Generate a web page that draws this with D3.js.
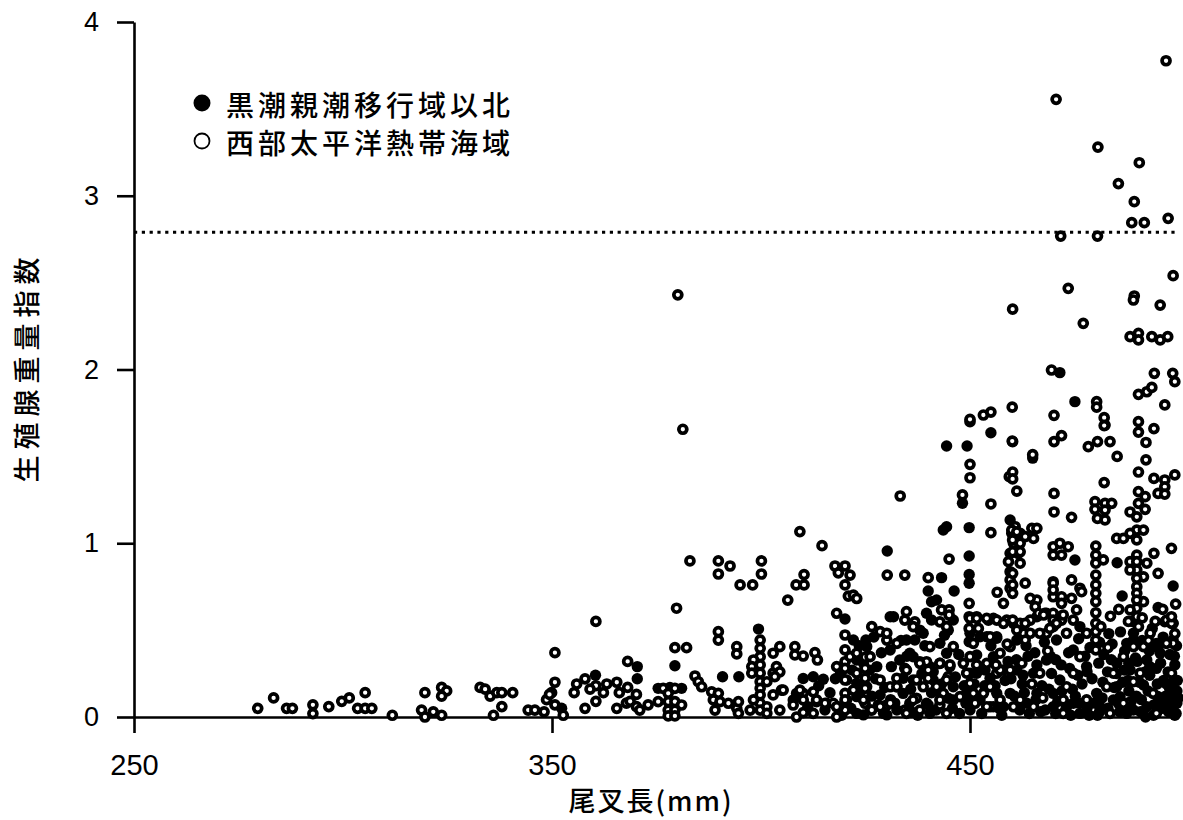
<!DOCTYPE html>
<html lang="ja">
<head>
<meta charset="UTF-8">
<script src="https://d3js.org/d3.v7.min.js"></script>
<style>
  body { margin: 0; background: #fff; }
  svg { display: block; }
  .tick text { font-family: 'Liberation Sans', Arial, sans-serif; fill: #000; }
  .jp { font-family: 'Noto Sans CJK JP', sans-serif; fill: #000; font-weight: 500; }
</style>
</head>
<body>
<svg id="chart" width="1183" height="820"></svg>
<script>
// legend / axis labels
const seriesNames = ["黒潮親潮移行域以北", "西部太平洋熱帯海域"];
const xTicks = [250, 350, 450];
const yTicks = [0, 1, 2, 3, 4];
const xTitle = "尾叉長(mm)";
const yTitle = "生殖腺重量指数";
const threshold = 2.79;

// 黒潮親潮移行域以北 (filled) : [尾叉長, 指数]
const northPts = [
  [352.3,0.05],[360.4,0.24],[370.4,0.29],[370.4,0.22],[375.4,0.165],[378.2,0.17],[381.0,0.165],[379.4,0.295],
  [399.4,0.506],[394.7,0.232],[390.8,0.232],[408.5,0.136],[420.1,0.564],[419.0,0.25],
  [410.1,0.222],[412.5,0.232],[414.9,0.217],[415.3,0.04],
  [444.4,1.56],[449.3,1.56],[455.0,1.636],[448.2,1.23],[443.6,1.076],[444.4,1.095],[449.8,1.09],[430.2,0.955],
  [449.8,0.927],[443.2,0.802],[449.8,0.82],[449.8,0.77],[440.0,0.725],[446.2,0.725],
  [454.0,0.462],[456.4,0.453],[449.8,0.433],[430.9,0.577],[431.7,0.577],[438.0,0.5],[436.8,0.443],
  [440.8,0.663],[442.0,0.673],[444.8,0.5],[440.8,0.558],[439.6,0.597],[425.1,0.443],[422.1,0.443],
  [422.9,0.328],[422.9,0.194],[422.9,0.117],[424.5,0.012],[430.1,0.012],[428.5,0.127],[433.2,0.328],
  [435.6,0.367],[441.2,0.261],[442.8,0.309],[444.4,0.367],[444.8,0.108],[440.0,0.069],[435.6,0.079],
  [432.5,0.174],[434.0,0.223],
  [451.6,0.357],[450.0,0.252],[449.2,0.136],[450.0,0.04],[454.8,0.223],[456.4,0.136],[458.0,0.059],
  [455.6,0.568],[460.4,0.539],[450.0,0.482],[452.4,0.462],[456.4,0.462],[461.2,0.443],[451.6,0.252],
  [455.6,0.347],[461.2,0.27],[452.4,0.098],[455.6,0.059],[459.6,0.136],[463.6,0.079],[466.0,0.136],
  [468.3,0.328],[465.2,0.252],[471.5,0.577],[466.0,0.577],[459.6,1.134],
  [465.0,1.49],[498.6,0.754],[485.2,0.888],[475.1,0.904],[486.4,0.696],[495.0,0.63],[469.9,0.779],
  [471.5,1.982],[475.1,1.815],
  [493.8,0.405],[495.5,0.367],[498.6,0.443],[496.6,0.548],[498.6,0.203],[498.6,0.117],[494.6,0.424],
  [489.1,0.443],[492.3,0.328],[494.6,0.28],[488.3,0.27],[491.5,0.184],[495.5,0.098],[497.0,0.079],
  [498.6,0.059],[492.3,0.059],[489.1,0.04],[485.9,0.117],[485.1,0.174],[485.1,0.309],[487.5,0.424],
  [489.1,0.482],[499.3,0.02],[499.5,0.08],[497.5,0.03],[496.0,0.05],[494.0,0.07],[491.0,0.1],
  [488.0,0.15],[486.5,0.2],[483.0,0.05],[481.0,0.03],[478.0,0.05],[476.0,0.08],[473.0,0.05],
  [471.0,0.09],[468.0,0.04],[499.0,0.3],[499.5,0.15],[497.8,0.16],[496.3,0.21],[493.0,0.24],
  [490.0,0.32],[487.0,0.38],[484.0,0.42],[482.0,0.36],
  [470.7,0.443],[476.3,0.52],[474.7,0.386],[477.9,0.29],[471.5,0.213],[469.9,0.136],[474.7,0.079],
  [480.3,0.136],[484.3,0.098],[481.1,0.059],[487.5,0.021],[469.9,0.059],[476.3,0.021],
  [430.9,0.386],[434.8,0.443],[438.8,0.482],[446.0,0.558],[442.8,0.424],[436.4,0.347],[440.4,0.29],
  [445.2,0.29],[436.4,0.213],[441.2,0.213],[446.0,0.174],[434.0,0.136],[439.6,0.079],[446.0,0.098],
  [432.5,0.04],[440.4,0.021],
  [407.7,0.098],[415.7,0.079],[420.5,0.098],[420.5,0.213],[424.5,0.309],[427.7,0.29],[425.3,0.174],
  [426.1,0.04],[429.3,0.021],[422.9,0.021],[425.3,0.405],
  [470.5,0.02],[472.0,0.15],[473.8,0.28],[475.2,0.12],[476.8,0.19],[478.5,0.01],[479.2,0.22],[480.8,0.31],
  [481.6,0.11],[482.9,0.26],[484.5,0.17],[485.8,0.03],[486.9,0.27],[488.6,0.09],[489.6,0.34],[490.8,0.03],
  [491.9,0.26],[492.6,0.15],[493.9,0.01],[494.8,0.19],[495.6,0.31],[496.8,0.12],[497.4,0.26],[498.9,0.35],
  [499.6,0.21],[499.0,0.01],[477.5,0.35],[475.8,0.24],[474.1,0.01],[479.8,0.08],[483.8,0.33],[487.8,0.21],
  [491.2,0.44],[493.6,0.51],[496.2,0.46],[492.9,0.38],[488.9,0.55],[486.0,0.49],[483.2,0.48],[481.0,0.43],
  [478.7,0.40],[476.0,0.45],[473.6,0.37],[471.8,0.30],[469.5,0.25],[467.2,0.18],[465.8,0.10],[464.2,0.02],
  [462.5,0.19],[461.1,0.33],[463.4,0.41],[465.5,0.37],[467.8,0.43],[469.2,0.35],
  [426.5,0.12],[427.4,0.22],[428.8,0.37],[429.6,0.17],[431.2,0.29],[432.0,0.08],[433.5,0.44],[434.9,0.35],
  [435.8,0.16],[437.5,0.01],[438.5,0.25],[439.2,0.41],[440.8,0.14],[441.9,0.04],[443.2,0.19],[443.9,0.47],
  [445.8,0.05],[446.5,0.23],[447.3,0.36],[448.6,0.18],[449.0,0.08],[451.0,0.19],[452.8,0.02],[453.6,0.27],
  [455.0,0.41],[456.0,0.18],[457.6,0.01],[458.4,0.21],[459.1,0.32],[460.6,0.12],[461.9,0.04],[462.7,0.24],
  [463.9,0.35],[466.9,0.03],[468.9,0.16],
  [411.2,0.06],[413.8,0.18],[416.5,0.14],[417.8,0.22],[419.3,0.01],[421.5,0.05],[423.6,0.14],[421.8,0.27],
  [426.0,0.27],[427.0,0.46],[423.5,0.41],
  [431.0,0.10],[436.0,0.03],[442.5,0.15],[447.5,0.02],[450.5,0.12],[453.5,0.18],[457.0,0.05],[459.8,0.22],
  [463.0,0.14],[466.0,0.30],[470.5,0.33],[474.5,0.16],[478.0,0.26],[481.8,0.20],[485.0,0.25],[488.0,0.31],
  [490.5,0.20],[493.0,0.29],[495.0,0.40],[497.8,0.36],[499.4,0.41],[480.5,0.01],[485.5,0.08],[489.8,0.12],
  [492.0,0.00],[494.8,0.12],[497.0,0.19],[499.8,0.11]
];

// 西部太平洋熱帯海域 (open) : [尾叉長, 指数]
const tropicPts = [
  [279.6,0.05],[283.4,0.11],[286.5,0.05],[287.9,0.05],[292.8,0.07],[292.8,0.02],[296.6,0.06],[299.7,0.09],
  [301.5,0.11],[305.3,0.14],[303.5,0.05],[305.3,0.05],[306.9,0.05],[311.8,0.01],[319.6,0.14],[318.8,0.04],
  [319.6,0.0],[323.6,0.17],[324.8,0.15],[323.6,0.12],[321.6,0.03],[323.6,0.01],
  [332.8,0.17],[334.0,0.16],[335.2,0.12],[336.8,0.14],[338.0,0.14],[340.6,0.14],[338.0,0.06],[336.0,0.01],
  [344.3,0.04],[345.9,0.04],[348.1,0.03],[348.7,0.1],[349.9,0.14],[350.7,0.2],[350.7,0.37],[350.7,0.07],
  [349.4,0.13],[352.7,0.01],
  [360.5,0.55],[368.1,0.32],[355.9,0.19],[357.9,0.22],[360.5,0.18],[363.1,0.19],[359.1,0.16],[362.3,0.14],
  [360.5,0.09],[357.9,0.05],[355.3,0.14],[365.5,0.2],[368.1,0.17],[366.1,0.14],[365.5,0.05],[367.8,0.08],
  [370.2,0.13],[370.2,0.06],[368.7,0.09],[373.0,0.07],[371.0,0.04],
  [376.6,0.165],[377.8,0.136],[379.4,0.165],[377.8,0.088],[379.4,0.088],[381.0,0.069],[377.8,0.04],
  [379.4,0.04],[377.8,0.006],[379.4,0.006],[375.4,0.088],[379.4,0.399],[382.2,0.399],[379.8,0.626],
  [383.0,0.898],[389.8,0.898],[392.6,0.869],[389.8,0.823],[395.0,0.76],[398.0,0.76],[400.1,0.898],
  [400.1,0.823],[406.4,0.673],[408.4,0.76],[409.3,1.067],[389.8,0.491],[389.8,0.443],[394.2,0.405],
  [394.2,0.363],[399.8,0.443],[399.8,0.395],[399.8,0.347],[398.2,0.328],[397.8,0.29],[399.8,0.3],
  [399.8,0.252],[397.8,0.252],[399.8,0.203],[399.8,0.165],[399.8,0.127],[399.8,0.079],[399.8,0.04],
  [401.4,0.203],[401.4,0.059],[401.4,0.021],[398.2,0.098],[397.4,0.04],[402.9,0.252],[402.9,0.367],
  [404.5,0.405],[403.7,0.29],[404.9,0.155],[408.1,0.405],[408.1,0.357],
  [384.2,0.236],[385.0,0.203],[385.8,0.174],[388.2,0.145],[389.8,0.136],[388.6,0.098],[389.0,0.04],
  [390.2,0.088],[392.2,0.079],[394.2,0.05],[394.6,0.021],[394.6,0.088],[404.5,0.04],[407.7,0.069],[408.5,0.0],
  [381.3,1.656],[380.1,2.43],[414.6,0.986],[410.3,0.82],[410.3,0.76],[417.7,0.869],[420.1,0.869],
  [418.5,0.83],[420.1,0.76],[420.9,0.696],[418.1,0.597],[420.1,0.472],[420.1,0.386],[420.1,0.318],
  [420.1,0.28],[420.1,0.213],[420.1,0.136],[420.1,0.098],[420.1,0.04],[418.5,0.059],
  [410.1,0.351],[412.9,0.37],[413.5,0.328],[404.5,0.26],[403.3,0.232],[405.3,0.155],[402.9,0.127],
  [410.1,0.136],[412.5,0.145],[415.3,0.079],[413.3,0.088],[410.1,0.025],[412.5,0.021],[417.3,0.079],
  [433.3,1.272],[450.0,1.70],[450.0,1.454],[450.0,1.377],[459.4,1.383],[448.2,1.278],[455.0,1.226],
  [455.0,1.061],[445.0,0.909],[430.2,0.817],[434.4,0.817],[440.0,0.802],[456.5,0.718],[458.0,0.654],
  [421.3,0.817],[422.1,0.702],[422.9,0.682],
  [449.8,0.654],[449.8,0.577],[451.6,0.577],[454.4,0.558],[456.4,0.558],[458.8,0.558],[449.8,0.51],
  [452.0,0.51],[434.8,0.606],[434.4,0.558],[436.8,0.548],[443.2,0.616],[445.0,0.616],[445.0,0.587],
  [442.8,0.548],[426.5,0.52],[428.5,0.491],[430.1,0.443],[430.1,0.482],
  [421.3,0.347],[424.9,0.344],[424.9,0.28],[424.9,0.223],[424.9,0.165],[424.9,0.079],[426.5,0.04],
  [428.1,0.069],[430.1,0.069],[430.9,0.174],[432.5,0.223],[434.4,0.28],[438.0,0.318],[439.6,0.318],
  [440.0,0.27],[440.0,0.223],[442.0,0.174],[445.2,0.3],[444.8,0.232],[443.6,0.136],[442.8,0.069],
  [438.0,0.04],[437.2,0.108],[434.4,0.04],[437.2,0.213],
  [448.4,0.309],[450.0,0.347],[451.6,0.3],[450.0,0.194],[451.2,0.079],[453.2,0.136],[456.4,0.252],
  [458.0,0.27],[454.8,0.174],[454.8,0.059],
  [450.0,0.568],[451.6,0.568],[454.0,0.568],[458.0,0.539],[462.0,0.539],[450.8,0.424],[454.8,0.462],
  [459.6,0.405],[462.8,0.482],[449.2,0.252],[454.0,0.309],[457.2,0.367],[459.6,0.27],[457.2,0.27],
  [450.8,0.136],[454.0,0.059],[457.2,0.098],[460.4,0.059],[462.0,0.098],[465.2,0.059],[466.7,0.252],
  [468.3,0.482],[469.9,0.52],[468.3,0.597],[466.0,0.673],
  [460.8,1.095],[460.0,1.057],[462.0,1.057],[460.4,1.0],[462.0,1.0],[459.6,0.942],[461.5,0.942],
  [459.2,0.894],[459.6,0.836],[459.6,0.789],[459.6,0.741],[463.2,0.77],[463.2,1.038],[464.8,1.086],
  [466.0,1.086],[465.2,1.028],[460.0,1.076],[461.2,1.066],
  [482.3,1.68],[490.3,1.70],[494.0,1.66],[490.3,1.64],[492.1,1.58],[483.5,1.585],[480.5,1.585],
  [478.3,1.556],[471.9,1.62],[470.1,1.585],[460.2,1.585],[465.0,1.51],[485.2,1.5],[492.1,1.48],
  [490.3,1.41],[494.0,1.373],[496.6,1.364],[499.0,1.393],[496.6,1.325],[495.0,1.287],[496.6,1.283],
  [460.2,1.41],[460.2,1.37],[461.2,1.30],[482.1,1.349],[470.1,1.287],[470.1,1.18],[474.3,1.149],
  [479.9,1.239],[482.3,1.23],[483.9,1.23],[479.9,1.195],[482.3,1.191],[480.5,1.143],[482.3,1.134],
  [490.3,1.297],[491.9,1.268],[490.3,1.23],[491.9,1.195],[488.3,1.18],[489.9,1.152],
  [489.9,1.076],[491.5,1.076],[488.3,1.057],[489.9,1.019],[485.1,1.028],[486.7,1.028],[498.2,0.971],
  [494.0,0.942],[489.9,0.932],[488.3,0.894],[489.9,0.894],[492.3,0.885],[489.9,0.846],[488.3,0.846],
  [491.5,0.807],[489.9,0.798],[489.9,0.75],[489.9,0.712],[491.5,0.664],[489.9,0.673],[489.9,0.626],
  [488.3,0.616],[489.9,0.577],[495.0,0.827],[493.1,0.482],[497.0,0.558],[498.6,0.539],[498.6,0.424],
  [480.1,0.984],[480.1,0.932],[480.1,0.885],[480.1,0.817],[480.1,0.76],[480.1,0.712],[480.1,0.664],
  [480.1,0.6],[480.1,0.539],[480.1,0.491],[480.1,0.443],[480.1,0.386],[481.9,0.904],
  [460.2,1.019],[460.2,0.951],[462.0,0.951],[462.0,0.885],[460.2,0.827],[460.2,0.76],[460.2,0.712],
  [464.4,0.683],[465.6,0.635],[469.9,0.98],[471.5,1.0],[473.5,0.98],[469.9,0.932],[471.9,0.932],
  [474.3,0.789],[476.3,0.741],[469.9,0.77],[469.9,0.692],[471.9,0.692],[474.3,0.683],[475.5,0.616],
  [474.7,0.558],[469.9,0.597],[469.9,0.558],[471.9,0.558],[466.4,0.597],[467.9,0.597],[464.4,0.558],
  [463.2,0.539],[460.2,0.558],[461.2,0.5],[464.4,0.482],[466.7,0.482],[463.2,0.443],
  [469.9,0.731],[471.9,0.654],[476.7,0.721],[467.6,0.587],[470.7,0.539],[472.3,0.587],[469.1,0.51],
  [497.0,0.424],[498.2,0.539],[498.2,0.577],[498.2,0.252],[491.5,0.405],[489.1,0.405],[490.7,0.252],
  [489.1,0.203],[493.8,0.136],[494.6,0.021],[487.5,0.079],[484.3,0.252],[486.7,0.347],[490.3,0.52],
  [473.1,0.482],[477.9,0.482],[476.3,0.347],[474.7,0.252],[473.1,0.174],[472.3,0.098],[477.9,0.098],
  [482.7,0.174],[486.7,0.079],[483.5,0.021],[472.3,0.021],
  [432.5,0.424],[436.4,0.52],[444.4,0.52],[440.4,0.405],[446.0,0.405],[438.0,0.309],[442.8,0.309],
  [434.8,0.27],[438.8,0.174],[444.4,0.213],[432.5,0.174],[436.4,0.098],[442.8,0.098],[447.6,0.117],
  [430.9,0.079],[434.8,0.021],[444.4,0.021],
  [409.3,0.155],[410.1,0.098],[413.3,0.098],[418.1,0.059],[422.1,0.155],[422.9,0.252],[426.1,0.347],
  [428.5,0.213],[424.5,0.098],[428.5,0.059],[418.1,0.0],[418.1,0.29],[422.9,0.367],
  [481.3,0.52],[483.6,0.58],[485.6,0.62],[487.9,0.55],[491.2,0.57],[494.3,0.55],[496.1,0.62],[499.2,0.65],
  [483.0,0.40],[492.7,0.44],[499.0,0.48],[456.2,0.30],[458.9,0.42],[462.4,0.31],[464.8,0.19],[467.4,0.11],
  [468.6,0.38],
  [496.9,3.777],[470.6,3.555],[480.6,3.28],[490.5,3.19],[485.5,3.07],[489.3,2.966],[488.7,2.845],
  [491.7,2.845],[497.4,2.87],[471.7,2.768],[480.5,2.768],[498.6,2.54],[473.5,2.467],[489.3,2.423],
  [460.2,2.347],[477.1,2.266],[489.1,2.4],[495.5,2.371],[488.3,2.189],[490.3,2.208],[490.3,2.17],
  [493.5,2.189],[495.5,2.17],[497.3,2.189],[469.5,1.997],[494.1,1.978],[498.5,1.978],[499.0,1.93],
  [490.3,1.857],[492.3,1.872],[493.5,1.897],[496.6,1.796],[480.3,1.815],[480.3,1.783],[450.0,1.713],
  [453.2,1.738],[455.0,1.755],[460.1,1.783],[470.1,1.736],[482.1,1.723],[482.1,1.677],[460.1,1.588]
];

const svg = d3.select("#chart");

const x = d3.scaleLinear().domain([250, 500]).range([134, 1179]);
const y = d3.scaleLinear().domain([0, 4]).range([717, 22]);

// axes
const xAxis = svg.append("g")
  .attr("transform", `translate(0,${y(0)})`)
  .call(d3.axisBottom(x).tickValues(xTicks).tickSize(16).tickSizeOuter(0).tickPadding(21));
const yAxis = svg.append("g")
  .attr("transform", `translate(${x(250)},0)`)
  .call(d3.axisLeft(y).tickValues(yTicks).tickSize(17).tickSizeOuter(0).tickPadding(18).tickFormat(d3.format("d")));

[xAxis, yAxis].forEach(g => {
  g.selectAll("path, line").attr("stroke", "#000").attr("stroke-width", 2.6);
});
xAxis.selectAll("text").style("font-size", "29px");
yAxis.selectAll("text").style("font-size", "27px");

// threshold line
svg.append("line")
  .attr("x1", x(250)).attr("x2", x(500))
  .attr("y1", y(threshold)).attr("y2", y(threshold))
  .attr("stroke", "#000").attr("stroke-width", 3.2)
  .attr("stroke-dasharray", "3.2 4.6");

// points: filled first, open rings on top
svg.append("g").selectAll("circle")
  .data(northPts)
  .join("circle")
  .attr("cx", d => x(d[0])).attr("cy", d => y(d[1]))
  .attr("r", 5.7).attr("fill", "#000");

svg.append("g").selectAll("circle")
  .data(tropicPts)
  .join("circle")
  .attr("cx", d => x(d[0])).attr("cy", d => y(d[1]))
  .attr("r", 4.0).attr("fill", "#fff")
  .attr("stroke", "#000").attr("stroke-width", 3.7);

// legend
const legend = svg.append("g").attr("transform", "translate(202,0)");
legend.append("circle").attr("cx", 0).attr("cy", 103).attr("r", 8.5).attr("fill", "#000");
legend.append("circle").attr("cx", 0).attr("cy", 141).attr("r", 7.5)
  .attr("fill", "#fff").attr("stroke", "#000").attr("stroke-width", 1.8);
legend.selectAll("text")
  .data(seriesNames)
  .join("text")
  .attr("class", "jp")
  .attr("x", 24)
  .attr("y", (d, i) => 116 + i * 38)
  .style("font-size", "28px")
  .style("letter-spacing", "4px")
  .text(d => d);

// axis titles
svg.append("text")
  .attr("class", "jp")
  .attr("x", 651).attr("y", 811)
  .attr("text-anchor", "middle")
  .style("font-size", "27px")
  .style("letter-spacing", "2px")
  .text(xTitle);

svg.append("text")
  .attr("class", "jp")
  .attr("transform", "translate(37,367) rotate(-90)")
  .attr("text-anchor", "middle")
  .style("font-size", "27px")
  .style("letter-spacing", "6px")
  .text(yTitle);
</script>
</body>
</html>
